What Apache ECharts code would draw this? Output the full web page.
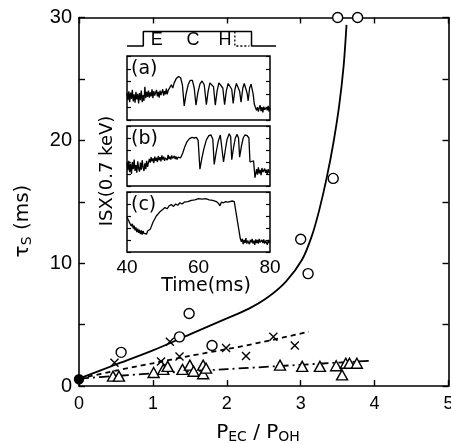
<!DOCTYPE html>
<html>
<head>
<meta charset="utf-8">
<script src="https://cdn.jsdelivr.net/npm/echarts@6/dist/echarts.min.js"></script>
<style>
  html, body { margin: 0; padding: 0; background: #fff; }
  #chart { width: 451px; height: 444px; }
</style>
</head>
<body>
<div id="chart"></div>
<script>
// ---- Main plot: sawtooth period tau_S versus P_EC / P_OH ----
const xTicks = [0, 1, 2, 3, 4, 5];
const yTicks = [0, 10, 20, 30];

// open circles
const circlePts = [[0.57, 2.74], [1.36, 4.0], [1.49, 5.9], [1.80, 3.3], [3.0, 11.95],
                   [3.10, 9.15], [3.44, 16.9], [3.50, 30], [3.77, 30]];
// ohmic reference point (filled)
const ohmicPt = [[0, 0.55]];
// crosses
const crossPts = [[0.48, 1.9], [1.11, 2.0], [1.23, 3.6], [1.36, 2.4], [1.99, 3.1],
                  [2.26, 2.45], [2.63, 4.0], [2.92, 3.3]];
// triangles
const trianglePts = [[0.46, 0.8], [0.54, 0.8], [1.01, 1.1], [1.14, 1.35], [1.20, 1.6],
                     [1.40, 1.35], [1.50, 1.7], [1.55, 1.2], [1.68, 1.7], [1.68, 1.0],
                     [1.72, 1.45], [2.72, 1.7], [3.02, 1.6], [3.26, 1.6], [3.48, 1.65],
                     [3.56, 0.9], [3.61, 1.85], [3.66, 1.85], [3.76, 1.85]];

// guide curves
const solidCurve = [[0, 0.6], [0.5, 1.75], [1.0, 2.9], [1.5, 4.2], [2.0, 5.5], [2.3, 6.3],
                    [2.55, 7.2], [2.8, 8.5], [3.02, 10.3], [3.15, 12.2], [3.25, 14.3], [3.35, 16.9],
                    [3.44, 19.7], [3.52, 22.8], [3.58, 26.0], [3.62, 29.4]];
const dashedCurve = [[0, 0.6], [0.5, 1.25], [1.0, 1.85], [1.5, 2.45], [2.0, 3.0], [2.5, 3.6],
                     [3.11, 4.42]];
const dashDotCurve = [[0, 0.6], [0.5, 0.82], [1.0, 1.02], [1.5, 1.2], [2.0, 1.37], [2.7, 1.62],
                      [3.3, 1.83], [3.93, 2.05]];

// ---- Inset: soft X-ray signal traces (arbitrary units) ----
const timeTicks = [40, 60, 80];
const sampleStep = 0.25; // ms between digitised samples in the noisy stretches

// (a)
const aNoiseStart = 40;
const aNoise = [0.42,0.31,0.45,0.28,0.43,0.33,0.47,0.29,0.40,0.27,0.44,0.32,0.41,0.26,0.42,0.31,
                0.46,0.28,0.39,0.30,0.52,0.34,0.44,0.36,0.46,0.35,0.43,0.37,0.48,0.34,0.45,0.38,
                0.40,0.47,0.37,0.44,0.35,0.46,0.39,0.41,0.48,0.38,0.45,0.40,0.49,0.40,0.46,0.43];
const aSawtooth = [[52.0,0.48],[52.4,0.55],[52.8,0.50],[53.2,0.58],[53.8,0.65],[54.4,0.68],[55.0,0.66],
                   [55.5,0.55],[56.0,0.22],[56.5,0.40],[57.1,0.55],[57.7,0.62],[58.3,0.62],[58.8,0.50],
                   [59.3,0.23],[59.8,0.42],[60.4,0.56],[61.0,0.61],[61.6,0.55],[62.2,0.24],[62.7,0.45],
                   [63.2,0.58],[63.7,0.61],[64.2,0.52],[64.7,0.23],[65.2,0.45],[65.7,0.58],[66.2,0.61],
                   [66.8,0.50],[67.3,0.24],[67.8,0.46],[68.3,0.57],[68.8,0.59],[69.3,0.48],[69.7,0.26],
                   [70.2,0.48],[70.6,0.57],[71.0,0.58],[71.5,0.45],[71.9,0.28],[72.4,0.50],[72.8,0.57],
                   [73.2,0.56],[73.6,0.42],[73.9,0.30],[74.3,0.50],[74.7,0.56],[75.0,0.54],[75.3,0.40],
                   [75.6,0.25],[75.9,0.20]];
const aTailStart = 76;
const aTail = [0.22,0.15,0.20,0.13,0.19,0.23,0.14,0.20,0.12,0.21,0.16,0.14,0.20,0.15,0.22,0.13,0.18];

// (b)
const bNoiseStart = 40;
const bNoise = [0.38,0.26,0.42,0.23,0.37,0.20,0.40,0.28,0.44,0.25,0.35,0.22,0.41,0.29,0.24,0.39,
                0.27,0.43,0.31,0.25,0.38,0.28,0.42,0.32,
                0.39,0.45,0.39,0.48,0.41,0.46,0.38,0.49,0.42,0.47,0.40,0.50,0.43,0.48,0.41,0.51,
                0.44,0.49,0.42,0.47,0.50,0.43,0.52,0.45,0.49,0.44,0.51,0.46,0.43,0.50,0.45,0.49,
                0.44,0.48,0.45,0.48];
const bSawtooth = [[55.0,0.47],[55.6,0.55],[56.2,0.66],[56.8,0.74],[57.5,0.79],[58.2,0.81],[58.8,0.80],
                   [59.4,0.81],[59.9,0.76],[60.4,0.28],[60.9,0.45],[61.5,0.62],[62.2,0.77],[62.9,0.84],
                   [63.5,0.85],[64.0,0.78],[64.4,0.36],[64.9,0.55],[65.5,0.74],[66.1,0.85],[66.6,0.84],
                   [67.0,0.40],[67.5,0.60],[68.0,0.78],[68.6,0.87],[69.0,0.82],[69.3,0.44],[69.8,0.64],
                   [70.3,0.80],[70.8,0.86],[71.2,0.80],[71.5,0.48],[72.0,0.66],[72.5,0.80],[73.0,0.85],
                   [73.6,0.84],[74.1,0.80],[74.4,0.40],[74.9,0.38],[75.4,0.42],[75.8,0.14]];
const bTailStart = 76;
const bTail = [0.17,0.28,0.19,0.31,0.21,0.27,0.18,0.30,0.23,0.20,0.29,0.22,0.27,0.19,0.28,0.23,0.22];

// (c)
const cNoiseStart = 40;
const cNoise = [0.58,0.55,0.52,0.48,0.50,0.43,0.47,0.39,0.44,0.36,0.41,0.33,0.39,0.32,0.37,0.30,
                0.36,0.29,0.35,0.31,0.28,0.34,0.30,0.35,0.33];
const cPlateau = [[46.5,0.38],[47.3,0.50],[48.2,0.60],[49.2,0.67],[50.0,0.71],[50.6,0.74],[51.2,0.72],
                  [51.8,0.77],[52.4,0.79],[53.0,0.76],[53.6,0.80],[54.2,0.78],[54.8,0.82],[55.4,0.80],
                  [56.0,0.83],[57.0,0.84],[58.0,0.86],[59.0,0.87],[60.0,0.89],[61.0,0.88],[62.0,0.89],
                  [63.0,0.87],[64.0,0.86],[65.0,0.84],[65.6,0.81],[66.0,0.77],[66.4,0.83],[67.0,0.82],
                  [67.6,0.84],[68.2,0.83],[68.8,0.84],[69.4,0.85],[70.0,0.84],[70.3,0.85],[71.7,0.22]];
const cTailStart = 72;
const cTail = [0.17,0.22,0.13,0.20,0.15,0.23,0.14,0.19,0.21,0.13,0.20,0.16,0.22,0.14,0.19,0.12,
               0.21,0.15,0.20,0.14,0.22,0.16,0.13,0.20,0.15,0.21,0.14,0.19,0.16,0.12,0.20,0.15,0.18];

// ECH timing bar above the traces (0 = off, 1 = on)
const echPulse = [[40, 0], [44.6, 0], [44.6, 1], [75.1, 1], [75.1, 0], [82, 0]];
const echEarlyOff = [[70.4, 1], [70.4, 0], [74.5, 0]];
const echLetters = [['E', 48.4], ['C', 58.6], ['H', 67.6]];

// samples at a fixed digitiser step -> [t, v] pairs
function sampled(start, values) {
  return values.map((v, i) => [start + i * sampleStep, v]);
}
const traceA = sampled(aNoiseStart, aNoise).concat(aSawtooth, sampled(aTailStart, aTail));
const traceB = sampled(bNoiseStart, bNoise).concat(bSawtooth, sampled(bTailStart, bTail));
const traceC = sampled(cNoiseStart, cNoise).concat(cPlateau, sampled(cTailStart, cTail));

// ---- layout ----
const plot = { left: 79, top: 17.5, right: 2.5, bottom: 58 };
const inset = { left: 127, width: 143 };
const panels = [
  { top: 56, height: 64, data: traceA, tag: '(a)' },
  { top: 126, height: 60, data: traceB, tag: '(b)' },
  { top: 192, height: 60, data: traceC, tag: '(c)' }
];
const header = { left: 127, top: 31.5, width: 149, height: 14.5 };

const BLACK = '#000';
const numFont = '"Liberation Sans", Arial, sans-serif';
const textFont = '"DejaVu Sans", sans-serif';

const grids = [ { left: plot.left, top: plot.top, right: plot.right, bottom: plot.bottom,
                  containLabel: false, outerBoundsMode: 'none' } ];
const xAxes = [];
const yAxes = [];
const series = [];

// main axes (a frame with inward ticks on all four sides)
const frameLine = { show: true, onZero: false, lineStyle: { color: BLACK, width: 1.6 } };
const frameTick = { show: true, inside: true, length: 6, lineStyle: { color: BLACK, width: 1.4 } };
xAxes.push({
  type: 'value', gridIndex: 0, min: 0, max: 5, interval: 1, position: 'bottom',
  axisLine: frameLine, axisTick: frameTick,
  axisLabel: { color: BLACK, fontFamily: numFont, fontSize: 18, margin: 9,
               formatter: v => xTicks.includes(v) ? String(v) : '' },
  splitLine: { show: false }
});
xAxes.push({
  type: 'value', gridIndex: 0, min: 0, max: 5, interval: 1, position: 'top',
  axisLine: frameLine, axisTick: frameTick,
  axisLabel: { show: false }, splitLine: { show: false }
});
yAxes.push({
  type: 'value', gridIndex: 0, min: 0, max: 30, interval: 5, position: 'left',
  axisLine: frameLine, axisTick: frameTick,
  axisLabel: { color: BLACK, fontFamily: numFont, fontSize: 20, margin: 7,
               formatter: v => yTicks.includes(v) ? String(v) : '' },
  splitLine: { show: false }
});
yAxes.push({
  type: 'value', gridIndex: 0, min: 0, max: 30, interval: 5, position: 'right',
  axisLine: frameLine, axisTick: frameTick,
  axisLabel: { show: false }, splitLine: { show: false }
});

function curve(data, type) {
  return {
    type: 'line', xAxisIndex: 0, yAxisIndex: 0, data, showSymbol: false, symbol: 'none',
    smooth: 0.3, silent: true, clip: false, z: 2,
    lineStyle: { color: BLACK, width: 1.8, type }
  };
}
series.push(curve(solidCurve, 'solid'));
series.push(curve(dashedCurve, [5, 4]));
series.push(curve(dashDotCurve, [10, 4, 2, 4]));

function markers(data, symbol, size, fill) {
  return {
    type: 'scatter', xAxisIndex: 0, yAxisIndex: 0, data, symbol, symbolSize: size,
    clip: false, silent: true, z: 4,
    itemStyle: { color: fill, borderColor: BLACK, borderWidth: 1.4, opacity: 1 }
  };
}
series.push(markers(trianglePts, 'triangle', [11, 10], '#fff'));
series.push(markers(crossPts, 'path://M0,0L10,10M10,0L0,10', [8, 8], 'none'));
series.push(markers(circlePts, 'circle', 10, '#fff'));
series.push(markers(ohmicPt, 'circle', 9, BLACK));

// inset panels
panels.forEach((p, i) => {
  const g = grids.length;
  grids.push({ left: inset.left, top: p.top, width: inset.width, height: p.height,
               containLabel: false, outerBoundsMode: 'none',
               show: true, backgroundColor: '#fff', borderColor: BLACK, borderWidth: 1.5, z: 5 });
  const last = i === panels.length - 1;
  xAxes.push({
    type: 'value', gridIndex: g, min: 40, max: 80, interval: 20, z: 6,
    axisLine: { show: false }, axisTick: { show: false }, splitLine: { show: false },
    axisLabel: { show: last, color: BLACK, fontFamily: numFont, fontSize: 19, margin: 6,
                 formatter: v => timeTicks.includes(v) ? String(v) : '' }
  });
  ['left', 'right'].forEach(pos => {
    yAxes.push({
      type: 'value', gridIndex: g, min: 0, max: 1, interval: 0.2, position: pos, z: 6,
      axisLine: { show: false, onZero: false }, splitLine: { show: false }, axisLabel: { show: false },
      axisTick: { show: true, inside: true, length: 4, lineStyle: { color: BLACK, width: 1.2 } }
    });
  });
  series.push({
    type: 'line', xAxisIndex: xAxes.length - 1, yAxisIndex: yAxes.length - 2, data: p.data,
    showSymbol: false, symbol: 'none', silent: true, z: 7,
    lineStyle: { color: BLACK, width: 1.3 }
  });
});

// ECH timing header
const hg = grids.length;
grids.push({ left: header.left, top: header.top, width: header.width, height: header.height,
             containLabel: false, outerBoundsMode: 'none', z: 5 });
const headerX = xAxes.length;
xAxes.push({ type: 'value', gridIndex: hg, min: 40, max: 82, show: false });
const headerY = yAxes.length;
yAxes.push({ type: 'value', gridIndex: hg, min: 0, max: 1, show: false });
series.push({
  type: 'line', xAxisIndex: headerX, yAxisIndex: headerY, data: echPulse,
  showSymbol: false, symbol: 'none', silent: true, clip: false, z: 7,
  lineStyle: { color: BLACK, width: 1.5 }
});
series.push({
  type: 'line', xAxisIndex: headerX, yAxisIndex: headerY, data: echEarlyOff,
  showSymbol: false, symbol: 'none', silent: true, clip: false, z: 7,
  lineStyle: { color: BLACK, width: 1.3, type: [2, 2] }
});

const chart = echarts.init(document.getElementById('chart'), null, { renderer: 'canvas' });
chart.setOption({
  animation: false,
  backgroundColor: '#fff',
  grid: grids, xAxis: xAxes, yAxis: yAxes, series
});

// text placed in the layout
const texts = [];
function txt(x, y, style, rotation) {
  texts.push({ type: 'text', x, y, rotation: rotation || 0, z: 10, silent: true,
               style: Object.assign({ fill: BLACK, align: 'center', verticalAlign: 'middle' }, style) });
}
// axis titles
txt(258, 433, {
  text: '{p|P}{s|EC}{p| / P}{s|OH}',
  rich: { p: { fontFamily: textFont, fontSize: 20, fill: BLACK },
          s: { fontFamily: textFont, fontSize: 14, fill: BLACK, padding: [8, 0, 0, 0] } }
});
txt(23, 221, {
  text: '{p|τ}{s|S}{p| (ms)}',
  rich: { p: { fontFamily: textFont, fontSize: 20, fill: BLACK },
          s: { fontFamily: textFont, fontSize: 14, fill: BLACK, padding: [8, 0, 0, 0] } }
}, Math.PI / 2);
// inset labels
txt(107, 171, { text: 'ISX(0.7 keV)', fontFamily: textFont, fontSize: 18 }, Math.PI / 2);
txt(206, 286, { text: 'Time(ms)', fontFamily: textFont, fontSize: 19 });
panels.forEach(p => {
  txt(131, p.top + 13, { text: p.tag, fontFamily: textFont, fontSize: 19, align: 'left' });
});
// ECH letters placed on the header time scale
echLetters.forEach(([ch, t]) => {
  const px = chart.convertToPixel({ xAxisIndex: headerX }, t);
  txt(px, 40.5, { text: ch, fontFamily: numFont, fontSize: 18 });
});

chart.setOption({ graphic: texts });
</script>
</body>
</html>
